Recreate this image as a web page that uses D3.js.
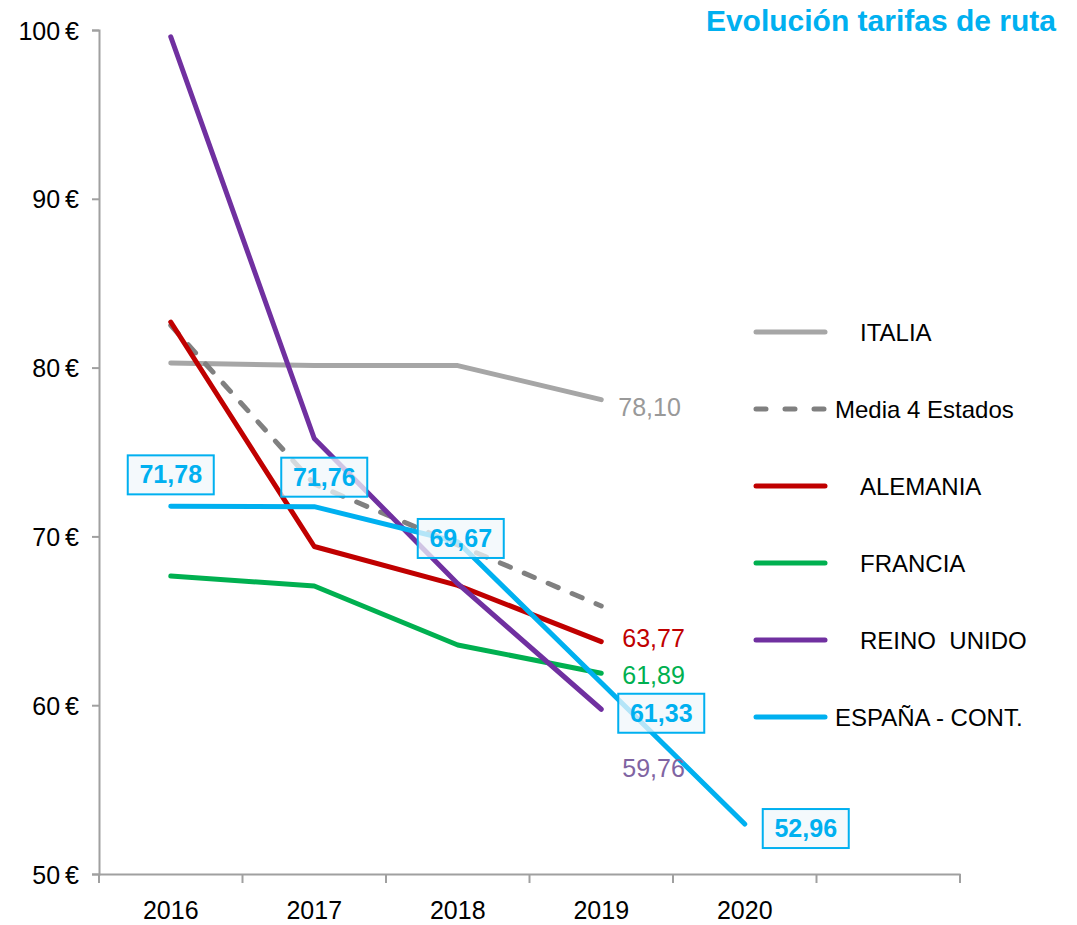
<!DOCTYPE html>
<html>
<head>
<meta charset="utf-8">
<script src="https://cdn.jsdelivr.net/npm/d3@7"></script>
<style>
  body { margin: 0; background: #fff; }
  text { font-family: "Liberation Sans", Arial, sans-serif; }
</style>
</head>
<body>
<div id="chart"></div>
<script>
'use strict';

const years = ['2016', '2017', '2018', '2019', '2020', ''];
const yTicks = [50, 60, 70, 80, 90, 100];

const italia = [80.27, 80.12, 80.12, 78.10];
const media = [82.5, 73.1, 69.5, 65.88];
const alemania = [82.7, 69.4, 67.1, 63.77];
const francia = [67.65, 67.06, 63.57, 61.89];
const reinoUnido = [99.6, 75.8, 67.2, 59.76];
const espana = [71.78, 71.76, 69.67, 61.33, 52.96];

const series = [
    {name: 'ITALIA', values: italia, color: '#a6a6a6', dash: null, label: '#999999'},
    {name: 'Media 4 Estados', values: media, color: '#808080', dash: '11,15', label: null},
    {name: 'ALEMANIA', values: alemania, color: '#c00000', dash: null, label: '#c00000'},
    {name: 'FRANCIA', values: francia, color: '#00b050', dash: null, label: '#00b050'},
    {name: 'REINO UNIDO', values: reinoUnido, color: '#7030a0', dash: null, label: '#8064a2'},
    {name: 'ESPAÑA - CONT.', values: espana, color: '#00b0f0', dash: null, label: null}
];

const width = 1077;
const height = 925;
const margin = {top: 30, left: 99, right: 117, bottom: 51};

const svg = d3.select('#chart').append('svg')
    .attr('width', width)
    .attr('height', height);

const x = d3.scaleBand().domain(years).range([margin.left, width - margin.right]);
const y = d3.scaleLinear().domain([50, 100]).range([height - margin.bottom, margin.top]);
const cx = (i) => x(years[i]) + x.bandwidth() / 2;

// axes
const xAxis = svg.append('g')
    .attr('transform', 'translate(0,' + y(50) + ')')
    .call(d3.axisBottom(x).tickSize(0).tickFormat(''));
xAxis.select('.domain').attr('stroke', '#a0a0a0').attr('stroke-width', 2);
// ticks sit on the band edges
svg.append('g').selectAll('line')
    .data(d3.range(years.length + 1))
    .enter().append('line')
    .attr('x1', (i) => margin.left + i * x.bandwidth())
    .attr('x2', (i) => margin.left + i * x.bandwidth())
    .attr('y1', y(50))
    .attr('y2', y(50) + 9)
    .attr('stroke', '#a0a0a0')
    .attr('stroke-width', 2);
svg.append('g').selectAll('text')
    .data(years.filter((d) => d))
    .enter().append('text')
    .attr('x', (d, i) => cx(i))
    .attr('y', y(50) + 45)
    .attr('text-anchor', 'middle')
    .style('font-size', '25px')
    .text((d) => d);

const yAxis = svg.append('g')
    .attr('transform', 'translate(' + margin.left + ',0)')
    .call(d3.axisLeft(y).tickValues(yTicks).tickSize(7).tickPadding(13).tickFormat((d) => d + '\u2009€'));
yAxis.select('.domain').attr('stroke', '#a0a0a0').attr('stroke-width', 2);
yAxis.selectAll('.tick line').attr('stroke', '#a0a0a0').attr('stroke-width', 2);
yAxis.selectAll('.tick text')
    .attr('fill', '#000')
    .attr('dy', '0.36em')
    .style('font-size', '25px')
    .style('font-family', '"Liberation Sans", Arial, sans-serif');

// lines
const line = d3.line()
    .x((d, i) => cx(i))
    .y((d) => y(d));

series.forEach((s) => {
    svg.append('path')
        .datum(s.values)
        .attr('fill', 'none')
        .attr('stroke', s.color)
        .attr('stroke-width', 5)
        .attr('stroke-linecap', 'round')
        .attr('stroke-linejoin', 'round')
        .attr('stroke-dasharray', s.dash)
        .attr('d', line);
});

const fmt = (v) => v.toFixed(2).replace('.', ',');

// end labels for the other countries
const endOffsets = {'ITALIA': [17, 16], 'ALEMANIA': [21, 5], 'FRANCIA': [21, 11], 'REINO UNIDO': [21, 68]};
series.filter((s) => s.label).forEach((s) => {
    const last = s.values.length - 1;
    svg.append('text')
        .attr('x', cx(last) + endOffsets[s.name][0])
        .attr('y', y(s.values[last]) + endOffsets[s.name][1])
        .attr('fill', s.label)
        .style('font-size', '25px')
        .text(fmt(s.values[last]));
});

// boxed labels for España
const boxOffsets = [[0, -32], [10, -30], [3, -4], [60, 30], [61, 4]];
espana.forEach((v, i) => {
    const bx = cx(i) + boxOffsets[i][0];
    const by = y(v) + boxOffsets[i][1];
    svg.append('rect')
        .attr('x', bx - 43)
        .attr('y', by - 19)
        .attr('width', 86)
        .attr('height', 39)
        .attr('fill', 'rgba(240,247,251,0.75)')
        .attr('stroke', '#00b0f0')
        .attr('stroke-width', 2);
    svg.append('text')
        .attr('x', bx)
        .attr('y', by + 9)
        .attr('text-anchor', 'middle')
        .attr('fill', '#00b0f0')
        .style('font-size', '25px')
        .style('font-weight', 'bold')
        .text(fmt(v));
});

// legend
const legendY = d3.scalePoint().domain(series.map((s) => s.name)).range([332, 717]);
const legend = svg.append('g');
series.forEach((s) => {
    const ly = legendY(s.name);
    legend.append('line')
        .attr('x1', 756).attr('x2', 825)
        .attr('y1', ly).attr('y2', ly)
        .attr('stroke', s.color)
        .attr('stroke-width', 5)
        .attr('stroke-linecap', 'round')
        .attr('stroke-dasharray', s.dash ? '10,19' : null);
    const long = s.name === 'Media 4 Estados' || s.name === 'ESPAÑA - CONT.';
    legend.append('text')
        .attr('x', long ? 835 : 860)
        .attr('y', ly + 9)
        .style('font-size', '24px')
        .attr('fill', '#000')
        .text(s.name === 'REINO UNIDO' ? 'REINO\u00a0 UNIDO' : s.name);
});

// title
svg.append('text')
    .attr('x', 1056)
    .attr('y', 31)
    .attr('text-anchor', 'end')
    .attr('fill', '#00b0f0')
    .style('font-size', '30px')
    .style('font-weight', 'bold')
    .text('Evolución tarifas de ruta');
</script>
</body>
</html>
